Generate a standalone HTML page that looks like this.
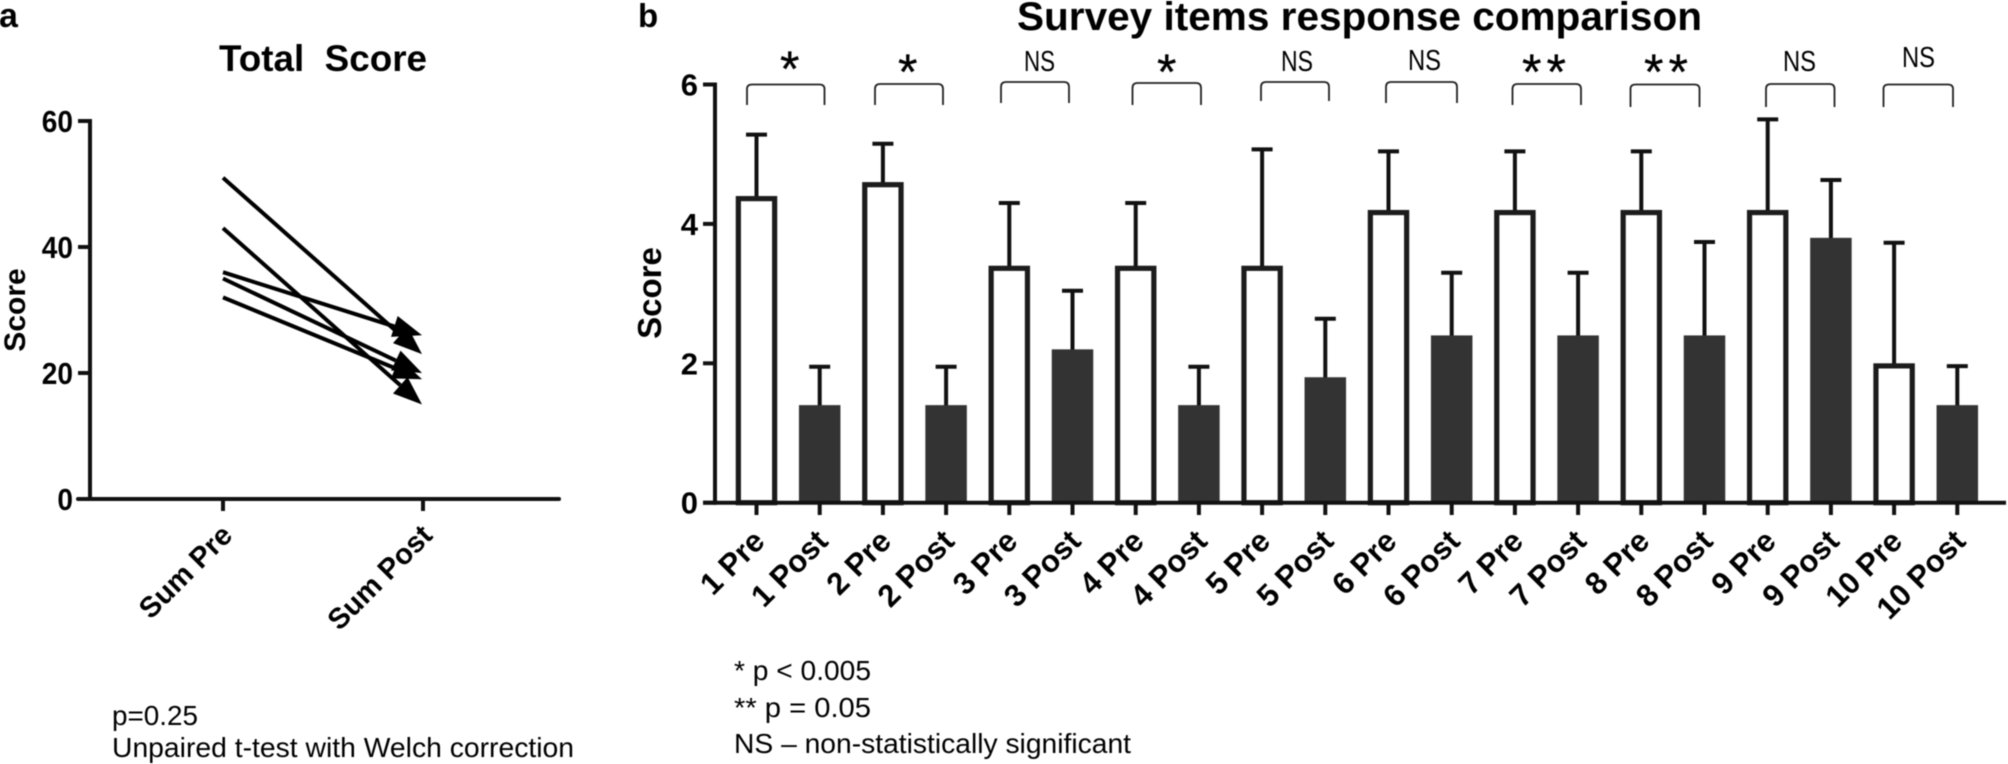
<!DOCTYPE html>
<html lang="en">
<head>
<meta charset="utf-8">
<title>Total Score and survey items response comparison</title>
<style>
html,body{margin:0;padding:0;background:#fff;}
svg{display:block;font-family:"Liberation Sans",sans-serif;filter:blur(0.45px);}
text{fill:#000;}
.b{font-weight:700;}
.br{fill:none;stroke:#222;stroke-width:1.8;}
</style>
</head>
<body>
<svg id="figure" xmlns="http://www.w3.org/2000/svg" width="2008" height="764" viewBox="0 0 2008 764">
  <rect width="2008" height="764" fill="#fff"/>
  <text class="b" x="-1" y="27" font-size="34">a</text>
  <text class="b" x="638" y="27" font-size="33">b</text>

  <text class="b" x="219" y="71" font-size="37" textLength="208" lengthAdjust="spacingAndGlyphs" style="white-space:pre" xml:space="preserve">Total  Score</text>
  <text class="b" transform="translate(25,310) rotate(-90)" text-anchor="middle" font-size="30">Score</text>
  <text x="112" y="725" font-size="28" textLength="86" lengthAdjust="spacingAndGlyphs">p=0.25</text>
  <text x="112" y="757" font-size="28" textLength="462" lengthAdjust="spacingAndGlyphs">Unpaired t-test with Welch correction</text>

  <text class="b" x="1017" y="30" font-size="40" textLength="685" lengthAdjust="spacingAndGlyphs">Survey items response comparison</text>
  <text class="b" transform="translate(661,293) rotate(-90)" text-anchor="middle" font-size="33">Score</text>

  <g>
    <path class="br" d="M747 105V89Q747 84.5 752 84.5H819.5Q824.5 84.5 824.5 89V105"/>
    <path class="br" d="M875 105V89Q875 84 880 84H938Q943 84 943 89V105"/>
    <path class="br" d="M1001 103V87Q1001 82 1006 82H1064Q1069 82 1069 87V103"/>
    <path class="br" d="M1132.500 105V88Q1132.500 83 1137.500 83H1196Q1201 83 1201 88V105"/>
    <path class="br" d="M1261 101V87Q1261 82 1266 82H1324Q1329 82 1329 87V101"/>
    <path class="br" d="M1386 103V87Q1386 82 1391 82H1452Q1457 82 1457 87V103"/>
    <path class="br" d="M1512.500 105V89Q1512.500 84 1517.500 84H1576Q1581 84 1581 89V105"/>
    <path class="br" d="M1630.500 107V89Q1630.500 84.500 1635.500 84.500H1694.500Q1699.500 84.500 1699.500 89V107"/>
    <path class="br" d="M1766 107V89Q1766 84 1771 84H1829.500Q1834.500 84 1834.500 89V107"/>
    <path class="br" d="M1883.500 107V89Q1883.500 84.500 1888.500 84.500H1948Q1953 84.500 1953 89V107"/>
  </g>
  <g font-size="50">
    <text x="780" y="86" stroke="#000" stroke-width="0.3">*</text>
    <text x="898" y="89" stroke="#000" stroke-width="0.3">*</text>
    <text x="1024" y="71" font-size="29" textLength="31" lengthAdjust="spacingAndGlyphs">NS</text>
    <text x="1157" y="89" stroke="#000" stroke-width="0.3">*</text>
    <text x="1281" y="71" font-size="29" textLength="32" lengthAdjust="spacingAndGlyphs">NS</text>
    <text x="1408" y="70" font-size="29" textLength="33" lengthAdjust="spacingAndGlyphs">NS</text>
    <text x="1522" y="89" stroke="#000" stroke-width="0.3" textLength="44">**</text>
    <text x="1644" y="89" stroke="#000" stroke-width="0.3" textLength="44">**</text>
    <text x="1783" y="71" font-size="29" textLength="33" lengthAdjust="spacingAndGlyphs">NS</text>
    <text x="1902" y="67" font-size="29" textLength="33" lengthAdjust="spacingAndGlyphs">NS</text>
  </g>

  <g font-size="28">
    <text x="734" y="680" textLength="137" lengthAdjust="spacingAndGlyphs">* p &lt; 0.005</text>
    <text x="734" y="717" textLength="137" lengthAdjust="spacingAndGlyphs">** p = 0.05</text>
    <text x="734" y="753" textLength="397" lengthAdjust="spacingAndGlyphs">NS – non-statistically significant</text>
  </g>

  <g id="chart-a"></g>
  <g id="chart-b"></g>
</svg>
<script>
// Panel a data
const sumCategories = ["Sum Pre", "Sum Post"];
const sumTicks = [0, 20, 40, 60];
const sumPre = [51, 43, 36, 35, 32];
const sumPost = [23, 15, 26, 20, 19];

// Panel b data
const itemCategories = ["1 Pre","1 Post","2 Pre","2 Post","3 Pre","3 Post","4 Pre","4 Post","5 Pre","5 Post","6 Pre","6 Post","7 Pre","7 Post","8 Pre","8 Post","9 Pre","9 Post","10 Pre","10 Post"];
const itemTicks = [0, 2, 4, 6];
const itemMeans = [4.4,1.4,4.6,1.4,3.4,2.2,3.4,1.4,3.4,1.8,4.2,2.4,4.2,2.4,4.2,2.4,4.2,3.8,2.0,1.4];
const itemErrorTops = [5.28,1.95,5.15,1.95,4.3,3.04,4.3,1.95,5.07,2.64,5.04,3.3,5.04,3.3,5.04,3.74,5.5,4.63,3.73,1.96];

const NS = "http://www.w3.org/2000/svg";
const INK = "#111";
function make(tag, attrs, parent, text) {
  const el = document.createElementNS(NS, tag);
  for (const k in attrs) el.setAttribute(k, attrs[k]);
  if (text !== undefined) el.textContent = text;
  parent.appendChild(el);
  return el;
}

// ---- Panel a ----
const gA = document.getElementById("chart-a");
const yA = v => 499 - v * 6.3;
const xA = i => 223 + i * 200;

let el = make("line", {x1: 90, x2: 90, y1: yA(60) - 2, y2: yA(0) + 2, stroke: INK, "stroke-width": 4}, gA);


el = make("line", {x1: 78, x2: 559, y1: yA(0), y2: yA(0), stroke: INK, "stroke-width": 4, "stroke-linecap": "round"}, gA);



sumTicks.forEach(t => {
  const tick = make("line", {x1: 78, x2: 90, y1: yA(t), y2: yA(t), stroke: INK, "stroke-width": 4}, gA);
  
  
  const lab = make("text", {x: 73, y: yA(t) + 11, "text-anchor": "end", "font-size": 31, "font-weight": 700, textLength: String(t).length * 15.6, lengthAdjust: "spacingAndGlyphs"}, gA, String(t));
  
  
});
sumCategories.forEach((c, i) => {
  const tick = make("line", {x1: xA(i), x2: xA(i), y1: yA(0), y2: 511, stroke: INK, "stroke-width": 4}, gA);
  
  
  const px = xA(i) + 11, py = 537;
  const lab = make("text", {transform: `translate(${px},${py}) rotate(-45)`, "text-anchor": "end", "font-size": 29, "font-weight": 700}, gA, c);
  
  
});
sumPre.forEach((v, i) => {
  const x1 = xA(0), y1 = yA(v), x2 = xA(1) - 1, y2 = yA(sumPost[i]);
  const dx = x2 - x1, dy = y2 - y1, len = Math.hypot(dx, dy);
  const ux = dx / len, uy = dy / len;
  const headLen = 29, halfW = 11;
  const bx = x2 - ux * headLen, by = y2 - uy * headLen;
  const line = make("line", {x1, y1, x2: bx, y2: by, stroke: "#000", "stroke-width": 4}, gA);
  
  
  const pts = [[x2, y2], [bx - uy * halfW, by + ux * halfW], [bx + uy * halfW, by - ux * halfW]];
  const head = make("polygon", {points: pts.map(p => p.join(",")).join(" "), fill: "#000"}, gA);
  
  
});

// ---- Panel b ----
const gB = document.getElementById("chart-b");
const yB = v => 502.7 - v * 69.7;
const xB = i => 756.5 + i * 63.2;
const barW = 41.5;

itemCategories.forEach((c, i) => {
  const v = itemMeans[i], cx = xB(i), isPre = i % 2 === 0;
  const stem = make("line", {x1: cx, x2: cx, y1: yB(itemErrorTops[i]), y2: yB(v) + 1, stroke: INK, "stroke-width": 4}, gB);
  
  
  const cap = make("line", {x1: cx - 10.5, x2: cx + 10.5, y1: yB(itemErrorTops[i]), y2: yB(itemErrorTops[i]), stroke: INK, "stroke-width": 4}, gB);
  
  
  const sw = 5.2;
  const bar = isPre
    ? make("rect", {x: cx - barW / 2 + sw / 2, y: yB(v) + sw / 2, width: barW - sw, height: yB(0) - yB(v) - sw / 2, fill: "#fff", stroke: "#1c1c1c", "stroke-width": sw}, gB)
    : make("rect", {x: cx - barW / 2, y: yB(v), width: barW, height: yB(0) - yB(v), fill: "#333"}, gB);
  
  
  const tick = make("line", {x1: cx, x2: cx, y1: yB(0), y2: 515, stroke: INK, "stroke-width": 4}, gB);
  
  
  const px = cx + 10, py = 543;
  const lab = make("text", {transform: `translate(${px},${py}) rotate(-45)`, "text-anchor": "end", "font-size": 31, "font-weight": 700}, gB, c);
  
  
});

el = make("line", {x1: 715, x2: 715, y1: yB(6) - 2, y2: yB(0) + 2, stroke: INK, "stroke-width": 4}, gB);


el = make("line", {x1: 703, x2: 2006, y1: yB(0), y2: yB(0), stroke: INK, "stroke-width": 4}, gB);


itemTicks.forEach(t => {
  const tick = make("line", {x1: 703, x2: 715, y1: yB(t), y2: yB(t), stroke: INK, "stroke-width": 4}, gB);
  
  
  const lab = make("text", {x: 698, y: yB(t) + 11, "text-anchor": "end", "font-size": 31, "font-weight": 700}, gB, String(t));
  
  
});
</script>
</body>
</html>
